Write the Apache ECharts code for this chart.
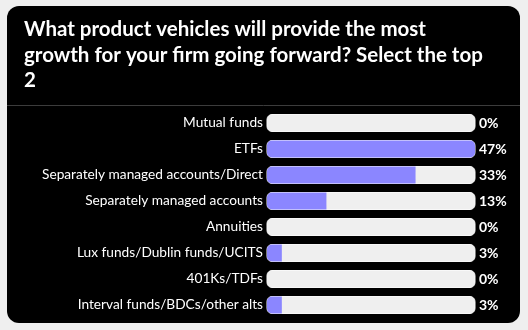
<!DOCTYPE html>
<html><head><meta charset="utf-8">
<script src="https://cdn.jsdelivr.net/npm/echarts@6/dist/echarts.min.js"></script>
<style>html,body{margin:0;padding:0;background:#efefef}#c{width:528px;height:330px}</style>
</head><body><div id="c"></div>
<script>
const titleText = 'What product vehicles will provide the most\ngrowth for your firm going forward? Select the top\n2';
const categories = ['Mutual funds','ETFs','Separately managed accounts/Direct','Separately managed accounts','Annuities','Lux funds/Dublin funds/UCITS','401Ks/TDFs','Interval funds/BDCs/other alts'];
const values = [0, 46.67, 33.33, 13.33, 0, 3.33, 0, 3.33];
const valueLabels = ['0%','47%','33%','13%','0%','3%','0%','3%'];

const maxV = Math.max(...values);
const chart = echarts.init(document.getElementById('c'), null, {renderer:'canvas'});
const FONT = 'Lato';
chart.setOption({
  backgroundColor: '#efefef',
  graphic: [
    {type:'rect', shape:{x:7,y:6,width:513,height:317,r:12}, style:{fill:'#000'}, z:-10},
    {type:'line', shape:{x1:7,y1:105.5,x2:520,y2:105.5}, style:{stroke:'#3c3c3c',lineWidth:1}, z:-9}
  ],
  title: {
    text: titleText, left: 19, top: 12,
    textStyle: {color:'#fff', fontSize:20.5, fontWeight:'bold', fontFamily:FONT, lineHeight:25.5}
  },
  grid: {left:267, right:53, top:110, bottom:12},
  xAxis: {type:'value', min:0, max:maxV, show:false},
  yAxis: [
    {type:'category', data:categories, inverse:true, axisLine:{show:false}, axisTick:{show:false},
     axisLabel:{color:'#fff', fontSize:13.7, fontFamily:FONT, margin:4}},
    {type:'category', data:valueLabels, inverse:true, position:'right', axisLine:{show:false}, axisTick:{show:false},
     axisLabel:{color:'#fff', fontSize:14, fontWeight:'bold', fontFamily:FONT, margin:4, align:'left'}}
  ],
  series: [{
    type:'bar', barWidth:17, yAxisIndex:0,
    showBackground:true,
    backgroundStyle:{color:'#efefef', borderRadius:5, borderColor:'#f8f8f8', borderWidth:1},
    data: values.map(v => ({value:v, itemStyle:{borderRadius: v>=maxV ? 5 : [5,0,0,5]}})),
    itemStyle:{color:'#8b86ff'},
    animation:false
  }],
  animation:false
});
</script></body></html>
